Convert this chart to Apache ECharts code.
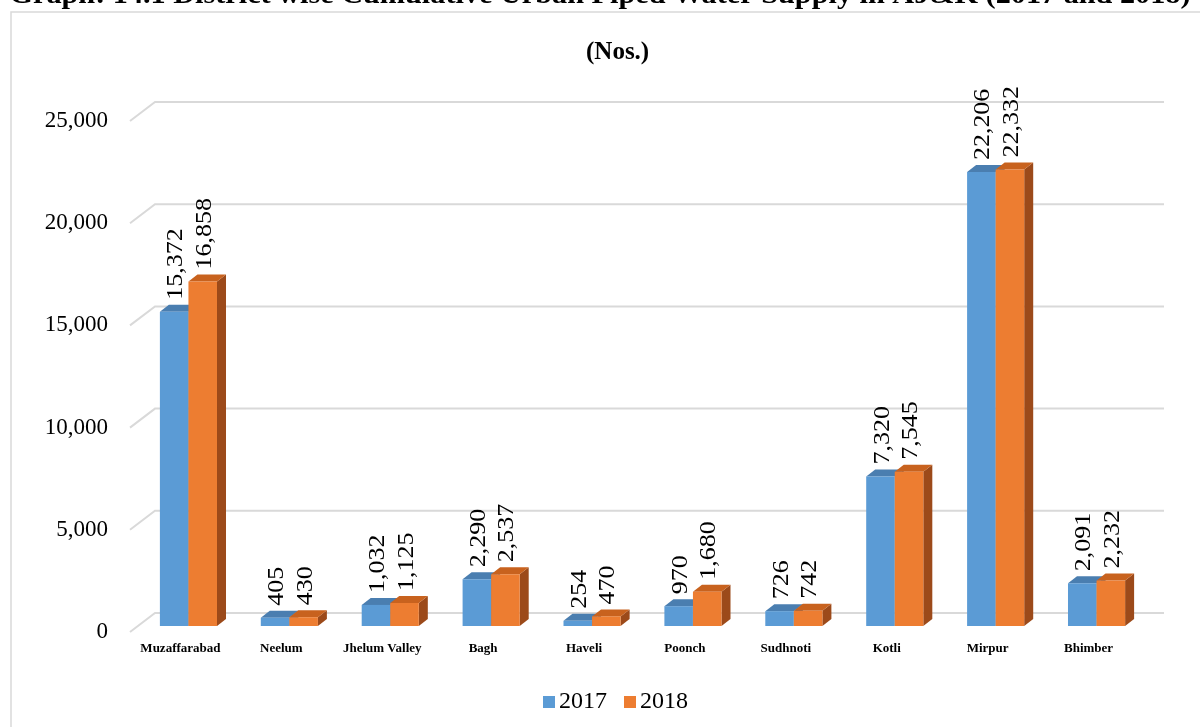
<!DOCTYPE html>
<html>
<head>
<meta charset="utf-8">
<script src="https://cdn.jsdelivr.net/npm/echarts@6/dist/echarts.min.js"></script>
<style>html,body{margin:0;padding:0;background:#fff}#c{width:1200px;height:727px}</style>
</head>
<body>
<div id="c"></div>
<script>
const categories = ['Muzaffarabad','Neelum','Jhelum Valley','Bagh','Haveli','Poonch','Sudhnoti','Kotli','Mirpur','Bhimber'];
const values2017 = [15372,405,1032,2290,254,970,726,7320,22206,2091];
const values2018 = [16858,430,1125,2537,470,1680,742,7545,22332,2232];
const yTicks = [0,5000,10000,15000,20000,25000];
const seriesNames = ['2017','2018'];
const titleText = 'Graph: 14.1 District wise Cumulative Urban Piped Water Supply in AJ&K (2017 and 2018)';
const subtitleText = '(Nos.)';

const DX = 25, DY = 19;   // floor depth
const BX = 9, BY = 7;     // bar depth
const OX = (DX-BX)/2, OY = (DY-BY)/2;
const fmt = v => Number(v).toLocaleString('en-US');

const palettes = [
  {front:'#5B9BD5', top:'#4A7EB0', side:'#3F6D99'},
  {front:'#ED7D31', top:'#C8621E', side:'#9C4A1A'}
];

function barRenderer(si){
  return function(params, api){
    const idx = api.value(0), v = api.value(1);
    const base = api.coord([idx, 0]);
    const top = api.coord([idx, v]);
    const band = api.size([1,0])[0];
    const w = band*0.283;
    const x0 = base[0] + OX + (si===0 ? -w : 0);
    const yb = base[1] - OY, yt = top[1] - OY;
    const p = palettes[si];
    return {type:'group', children:[
      {type:'polygon', shape:{points:[[x0+w,yt],[x0+w+BX,yt-BY],[x0+w+BX,yb-BY],[x0+w,yb]]}, style:{fill:p.side}},
      {type:'polygon', shape:{points:[[x0,yt],[x0+w,yt],[x0+w+BX,yt-BY],[x0+BX,yt-BY]]}, style:{fill:p.top}},
      {type:'rect', shape:{x:x0, y:yt, width:w, height:yb-yt}, style:{fill:p.front}},
      {type:'text', x:x0+w/2+2, y:yt-BY-5, rotation:Math.PI/2, scaleX:1.13,
        style:{text:fmt(v), font:'23px "Liberation Serif"', fill:'#000', align:'left', verticalAlign:'middle'}}
    ]};
  };
}

function gridRenderer(params, api){
  const cs = params.coordSys;
  const v = api.value(1);
  const y = api.coord([0, v])[1];
  return {type:'polyline', shape:{points:[[cs.x, y],[cs.x+DX, y-DY],[cs.x+cs.width+DX, y-DY]]},
    style:{stroke:'#D9D9D9', lineWidth:2, fill:null}};
}

const chart = echarts.init(document.getElementById('c'));
chart.setOption({
  animation:false,
  color:['#5B9BD5','#ED7D31'],
  graphic:[
    {type:'rect', shape:{x:11, y:12, width:1200, height:730}, style:{fill:null, stroke:'#D9D9D9', lineWidth:1.5}, z:-10},
    {type:'text', x:600, y:10, scaleX:1.12, originX:0, style:{text:titleText, font:'bold 27px "Liberation Serif"', fill:'#000', align:'center', verticalAlign:'bottom'}, z:5}
  ],
  title:[
    {text:subtitleText, left:581, top:35, textStyle:{fontFamily:'Liberation Serif', fontWeight:'bold', fontSize:25, color:'#000'}}
  ],
  legend:{data:seriesNames, left:538, top:685, itemWidth:12, itemHeight:12, itemGap:17, icon:'rect',
    textStyle:{fontFamily:'Liberation Serif', fontSize:24, color:'#000', padding:[0,0,0,-1]}},
  grid:{left:130, right:61, top:121, bottom:95, containLabel:false},
  xAxis:{type:'category', data:categories, axisLine:{show:false}, axisTick:{show:false},
    axisLabel:{margin:10, fontFamily:'Liberation Serif', fontWeight:'bold', fontSize:13, color:'#000', interval:0}},
  yAxis:{type:'value', min:0, max:25000, interval:5000, splitLine:{show:false}, axisLine:{show:false}, axisTick:{show:false},
    axisLabel:{margin:22, fontFamily:'Liberation Serif', fontSize:23, color:'#000', formatter:v=>fmt(v)}},
  series:[
    {type:'custom', name:'grid', renderItem:gridRenderer, data:yTicks.map(v=>[0,v]), z:1, silent:true, itemStyle:{color:'#D9D9D9'}},
    {type:'custom', name:seriesNames[0], renderItem:barRenderer(0), data:values2017.map((v,i)=>[i,v]), z:2, itemStyle:{color:'#5B9BD5'}},
    {type:'custom', name:seriesNames[1], renderItem:barRenderer(1), data:values2018.map((v,i)=>[i,v]), z:3, itemStyle:{color:'#ED7D31'}}
  ]
});
</script>
</body>
</html>
